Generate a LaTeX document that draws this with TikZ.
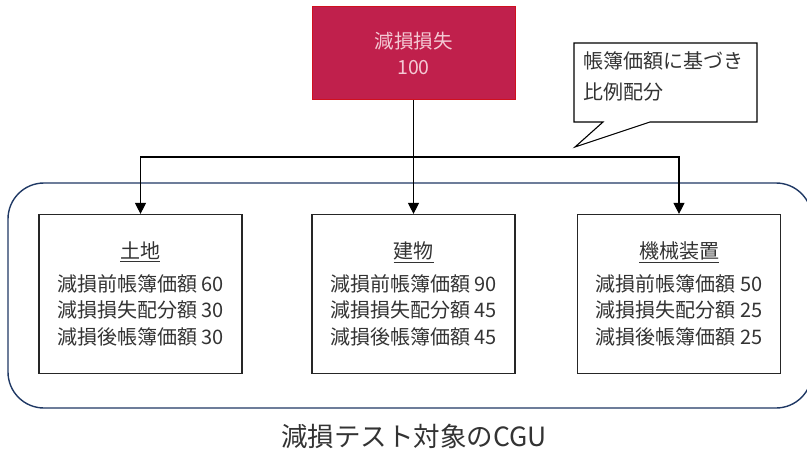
\documentclass[tikz,border=0pt]{standalone}
\usepackage{fontspec}
\setmainfont{Noto Sans CJK JP}
\usetikzlibrary{arrows.meta}
\definecolor{lossfill}{HTML}{C0204C}
\definecolor{lossdraw}{HTML}{D0101E}
\definecolor{losstext}{HTML}{F4C9D4}
\definecolor{cgublue}{HTML}{1F3864}
\definecolor{txt}{HTML}{333333}
\begin{document}
\begin{tikzpicture}[x=1pt,y=-1pt,
  lossbox/.style={draw=lossdraw,fill=lossfill,line width=1pt,minimum width=203pt,minimum height=93pt,
    text=losstext,align=center,font=\fontsize{19.5}{26}\selectfont,inner sep=0pt},
  assetbox/.style={draw=black!85,line width=1.2pt,minimum width=203pt,minimum height=159pt,
    text=txt,align=center,font=\fontsize{20}{26.5}\selectfont,inner sep=0pt},
  conn/.style={draw=black,line width=1.2pt,-{Triangle[length=11pt,width=11pt]}},
  cgu/.style={draw=cgublue,line width=1.4pt,rounded corners=36pt},
  calloutline/.style={draw=black,line width=1.1pt,fill=white},
  labeltext/.style={text=txt,font=\fontsize{26.5}{30}\selectfont,inner sep=0pt}
]
\useasboundingbox (0,0) rectangle (807,450);
% CGU container
\draw[cgu] (8,183) rectangle (812,408);
\node[labeltext] (cgulabel) at (414,436) {減損テスト対象のCGU};
% loss node
\node[lossbox] (loss) at (413.5,53) {減損損失\\100};
% asset boxes
\node[assetbox] (land) at (140.5,294) {\underline{土地}\\[6pt]減損前帳簿価額 60\\減損損失配分額 30\\減損後帳簿価額 30};
\node[assetbox] (bldg) at (413.5,294) {\underline{建物}\\[6pt]減損前帳簿価額 90\\減損損失配分額 45\\減損後帳簿価額 45};
\node[assetbox] (mach) at (679,294) {\underline{機械装置}\\[6pt]減損前帳簿価額 50\\減損損失配分額 25\\減損後帳簿価額 25};
% connectors
\draw[conn] (loss.south) -- ++(0,57) -| (land.north);
\draw[conn] (loss.south) -- (bldg.north);
\draw[conn] (loss.south) -- ++(0,57) -| (mach.north);
% callout
\draw[calloutline] (574,43) -- (757,43) -- (757,122) -- (650,122) -- (575,147) -- (603,122) -- (574,122) -- cycle;
\node[anchor=north west,align=left,text=txt,font=\fontsize{20}{31}\selectfont,inner sep=0pt] (note) at (583,51) {帳簿価額に基づき\\比例配分};
\end{tikzpicture}
\end{document}
